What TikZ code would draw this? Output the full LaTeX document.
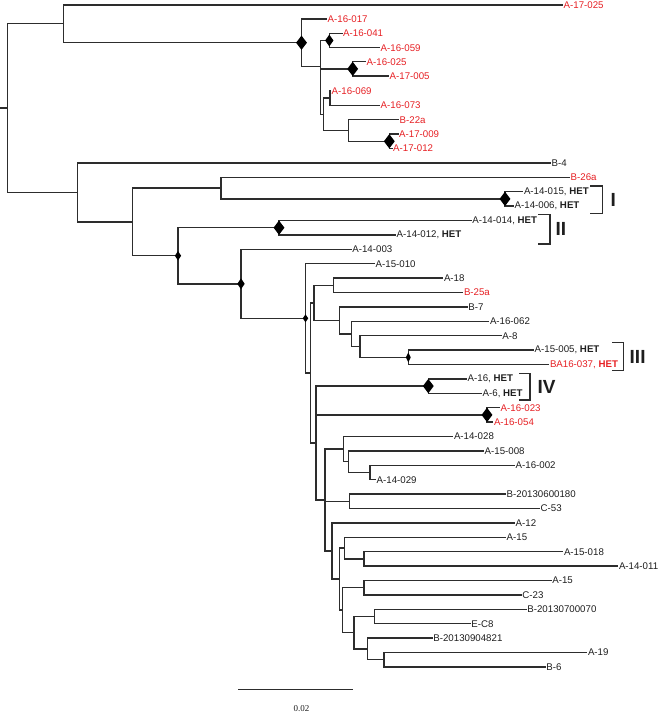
\documentclass[tikz,border=0pt]{standalone}
\usepackage{fontspec}
\setmainfont{Liberation Sans}
\newfontfamily\serifnum{Liberation Serif}
\usetikzlibrary{shapes.geometric}
\definecolor{myred}{RGB}{230,32,36}
\definecolor{txt}{RGB}{30,30,30}
\definecolor{ln}{RGB}{45,45,45}
\tikzset{
  br/.style={line width=1.45pt, draw=ln},
  lf/.style={anchor=west, inner sep=0.5pt, font=\fontsize{9.7}{10}\selectfont, text=txt},
  rd/.style={lf, text=myred},
  dmbig/.style={diamond, fill=black, draw=none, inner sep=0pt, minimum width=11pt, minimum height=14.5pt},
  dmmid/.style={diamond, fill=black, draw=none, inner sep=0pt, minimum width=8.5pt, minimum height=12pt},
  dmsm/.style={diamond, fill=black, draw=none, inner sep=0pt, minimum width=6.5pt, minimum height=9.5pt},
  grp/.style={font=\fontsize{19}{20}\selectfont\bfseries, text=txt, inner sep=0pt, anchor=west},
  brk/.style={line width=1.45pt, draw=ln}
}
\begin{document}
\begin{tikzpicture}[x=1pt,y=-1pt]
\useasboundingbox (0,0) rectangle (658,713);
% internal nodes
\coordinate (R0) at (0,108);
\coordinate (R) at (7.5,108);
\coordinate (N1) at (63.3,23.6);
\coordinate (N2) at (301.5,42.7);
\coordinate (N3) at (320.7,66.5);
\coordinate (C041) at (329.3,40.5);
\coordinate (C025) at (352.7,68.9);
\coordinate (N4) at (323.3,114.3);
\coordinate (C069) at (330,98.1);
\coordinate (C22a) at (348.3,130.5);
\coordinate (C009) at (389.3,141.3);
\coordinate (NB) at (77.7,192.4);
\coordinate (NC) at (132.7,221.9);
\coordinate (NBc) at (221,188.1);
\coordinate (CI) at (505,198.9);
\coordinate (ND) at (178,255.75);
\coordinate (CII) at (279,227.7);
\coordinate (NE) at (241,283.8);
\coordinate (NF) at (305.5,318.3);
\coordinate (G) at (310.7,373);
\coordinate (H) at (314,302.85);
\coordinate (A18c) at (333.3,285.3);
\coordinate (K) at (339.3,320.4);
\coordinate (L) at (351.7,333.9);
\coordinate (M) at (360,346.5);
\coordinate (NIII) at (408.3,357.3);
\coordinate (J) at (316,443.1);
\coordinate (CIV) at (428.3,386.1);
\coordinate (C023) at (487,414.9);
\coordinate (P) at (325,500.05);
\coordinate (Q) at (343.3,449.1);
\coordinate (RR) at (348.3,461.7);
\coordinate (S) at (370,472.5);
\coordinate (T) at (349.3,501.3);
\coordinate (U) at (332,551);
\coordinate (V) at (339.3,579.15);
\coordinate (W) at (344.3,548.1);
\coordinate (X) at (364,558.9);
\coordinate (Y) at (342.7,610.2);
\coordinate (Z) at (364,587.7);
\coordinate (AA) at (354,632.7);
\coordinate (AB) at (374.3,616.5);
\coordinate (AC) at (367.3,648.9);
\coordinate (AD) at (384,659.7);
% leaves
\node[rd] (l0) at (563,4.8) {A-17-025};
\node[rd] (l1) at (327,18.9) {A-16-017};
\node[rd] (l2) at (342.5,33.3) {A-16-041};
\node[rd] (l3) at (380,47.7) {A-16-059};
\node[rd] (l4) at (366,61.7) {A-16-025};
\node[rd] (l5) at (389,76.1) {A-17-005};
\node[rd] (l6) at (331,90.9) {A-16-069};
\node[rd] (l7) at (380,105.3) {A-16-073};
\node[rd] (l8) at (399,119.7) {B-22a};
\node[rd] (l9) at (398.5,134.1) {A-17-009};
\node[rd] (l10) at (392.5,148.5) {A-17-012};
\node[lf] (l11) at (551,162.9) {B-4};
\node[rd] (l12) at (570,177.3) {B-26a};
\node[lf] (l13) at (523.3,191.7) {A-14-015, \textbf{HET}};
\node[lf] (l14) at (514,206.1) {A-14-006, \textbf{HET}};
\node[lf] (l15) at (471.7,220.5) {A-14-014, \textbf{HET}};
\node[lf] (l16) at (396,234.9) {A-14-012, \textbf{HET}};
\node[lf] (l17) at (351.7,249.3) {A-14-003};
\node[lf] (l18) at (375,263.7) {A-15-010};
\node[lf] (l19) at (443.3,278.1) {A-18};
\node[rd] (l20) at (463.3,292.5) {B-25a};
\node[lf] (l21) at (467.7,306.9) {B-7};
\node[lf] (l22) at (489.3,321.3) {A-16-062};
\node[lf] (l23) at (501.7,335.7) {A-8};
\node[lf] (l24) at (534,350.1) {A-15-005, \textbf{HET}};
\node[rd] (l25) at (549.3,364.5) {BA16-037, \textbf{HET}};
\node[lf] (l26) at (467,378.9) {A-16, \textbf{HET}};
\node[lf] (l27) at (482,393.3) {A-6, \textbf{HET}};
\node[rd] (l28) at (500,407.7) {A-16-023};
\node[rd] (l29) at (493.3,422.1) {A-16-054};
\node[lf] (l30) at (453.3,436.5) {A-14-028};
\node[lf] (l31) at (484,450.9) {A-15-008};
\node[lf] (l32) at (515,465.3) {A-16-002};
\node[lf] (l33) at (376,479.7) {A-14-029};
\node[lf] (l34) at (506,494.1) {B-20130600180};
\node[lf] (l35) at (540,508.5) {C-53};
\node[lf] (l36) at (515,522.9) {A-12};
\node[lf] (l37) at (506,537.3) {A-15};
\node[lf] (l38) at (563.3,551.7) {A-15-018};
\node[lf] (l39) at (618.3,566.1) {A-14-011};
\node[lf] (l40) at (551.7,580.5) {A-15};
\node[lf] (l41) at (521.7,594.9) {C-23};
\node[lf] (l42) at (526.7,609.3) {B-20130700070};
\node[lf] (l43) at (470.7,623.7) {E-C8};
\node[lf] (l44) at (432.7,638.1) {B-20130904821};
\node[lf] (l45) at (587.3,652.5) {A-19};
\node[lf] (l46) at (545.7,666.9) {B-6};
% branches
\draw[br] (R0) -- (R);
\draw[br] (R) |- (N1); \draw[br] (R) |- (NB);
\draw[br] (N1) |- (l0.west); \draw[br] (N1) |- (N2);
\draw[br] (N2) |- (l1.west); \draw[br] (N2) |- (N3);
\draw[br] (N3) |- (C041); \draw[br] (N3) |- (C025); \draw[br] (N3) |- (N4);
\draw[br] (C041) |- (l2.west); \draw[br] (C041) |- (l3.west);
\draw[br] (C025) |- (l4.west); \draw[br] (C025) |- (l5.west);
\draw[br] (N4) |- (C069); \draw[br] (N4) |- (C22a);
\draw[br] (C069) |- (l6.west); \draw[br] (C069) |- (l7.west);
\draw[br] (C22a) |- (l8.west); \draw[br] (C22a) |- (C009);
\draw[br] (C009) |- (l9.west); \draw[br] (C009) |- (l10.west);
\draw[br] (NB) |- (l11.west); \draw[br] (NB) |- (NC);
\draw[br] (NC) |- (NBc); \draw[br] (NC) |- (ND);
\draw[br] (NBc) |- (l12.west); \draw[br] (NBc) |- (CI);
\draw[br] (CI) |- (l13.west); \draw[br] (CI) |- (l14.west);
\draw[br] (ND) |- (CII); \draw[br] (ND) |- (NE);
\draw[br] (CII) |- (l15.west); \draw[br] (CII) |- (l16.west);
\draw[br] (NE) |- (l17.west); \draw[br] (NE) |- (NF);
\draw[br] (NF) |- (l18.west); \draw[br] (NF) |- (G);
\draw[br] (G) |- (H); \draw[br] (G) |- (J);
\draw[br] (H) |- (A18c); \draw[br] (H) |- (K);
\draw[br] (A18c) |- (l19.west); \draw[br] (A18c) |- (l20.west);
\draw[br] (K) |- (l21.west); \draw[br] (K) |- (L);
\draw[br] (L) |- (l22.west); \draw[br] (L) |- (M);
\draw[br] (M) |- (l23.west); \draw[br] (M) |- (NIII);
\draw[br] (NIII) |- (l24.west); \draw[br] (NIII) |- (l25.west);
\draw[br] (J) |- (CIV); \draw[br] (J) |- (C023); \draw[br] (J) |- (P);
\draw[br] (CIV) |- (l26.west); \draw[br] (CIV) |- (l27.west);
\draw[br] (C023) |- (l28.west); \draw[br] (C023) |- (l29.west);
\draw[br] (P) |- (Q); \draw[br] (P) |- (T); \draw[br] (P) |- (U);
\draw[br] (Q) |- (l30.west); \draw[br] (Q) |- (RR);
\draw[br] (RR) |- (l31.west); \draw[br] (RR) |- (S);
\draw[br] (S) |- (l32.west); \draw[br] (S) |- (l33.west);
\draw[br] (T) |- (l34.west); \draw[br] (T) |- (l35.west);
\draw[br] (U) |- (l36.west); \draw[br] (U) |- (V);
\draw[br] (V) |- (W); \draw[br] (V) |- (Y);
\draw[br] (W) |- (l37.west); \draw[br] (W) |- (X);
\draw[br] (X) |- (l38.west); \draw[br] (X) |- (l39.west);
\draw[br] (Y) |- (Z); \draw[br] (Y) |- (AA);
\draw[br] (Z) |- (l40.west); \draw[br] (Z) |- (l41.west);
\draw[br] (AA) |- (AB); \draw[br] (AA) |- (AC);
\draw[br] (AB) |- (l42.west); \draw[br] (AB) |- (l43.west);
\draw[br] (AC) |- (l44.west); \draw[br] (AC) |- (AD);
\draw[br] (AD) |- (l45.west); \draw[br] (AD) |- (l46.west);
% support diamonds
\node[dmbig] (dN2) at (N2) {};
\node[dmmid] (dC041) at (C041) {};
\node[dmbig] (dC025) at (C025) {};
\node[dmbig] (dC009) at (C009) {};
\node[dmbig] (dCI) at (CI) {};
\node[dmbig] (dCII) at (CII) {};
\node[dmsm] (dND) at (ND) {};
\node[dmsm, minimum height=11pt, minimum width=7.5pt] (dNE) at (NE) {};
\node[dmsm, minimum width=5.7pt, minimum height=8pt] (dNF) at (NF) {};
\node[dmsm, minimum width=5pt, minimum height=10pt] (dNIII) at (NIII) {};
\node[dmbig] (dCIV) at (CIV) {};
\node[dmbig] (dC023) at (C023) {};
% brackets
\coordinate (bIa) at (590,186); \coordinate (bIb) at (602.7,186);
\coordinate (bIc) at (602.7,213.3); \coordinate (bId) at (590,213.3);
\draw[brk] (bIa) -- (bIb) -- (bIc) -- (bId);
\node[grp] (gI) at (610.5,200) {I};
\coordinate (bIIa) at (538,214.3); \coordinate (bIIb) at (550,214.3);
\coordinate (bIIc) at (550,244); \coordinate (bIId) at (538,244);
\draw[brk] (bIIa) -- (bIIb) -- (bIIc) -- (bIId);
\node[grp] (gII) at (555.5,229) {II};
\coordinate (bIIIa) at (612,342.7); \coordinate (bIIIb) at (623.3,342.7);
\coordinate (bIIIc) at (623.3,370.7); \coordinate (bIIId) at (612,370.7);
\draw[brk] (bIIIa) -- (bIIIb) -- (bIIIc) -- (bIIId);
\node[grp] (gIII) at (629.5,356.7) {III};
\coordinate (bIVa) at (519,373.3); \coordinate (bIVb) at (530,373.3);
\coordinate (bIVc) at (530,400); \coordinate (bIVd) at (519,400);
\draw[brk] (bIVa) -- (bIVb) -- (bIVc) -- (bIVd);
\node[grp] (gIV) at (537.5,386.7) {IV};
% scale bar
\coordinate (sba) at (238,689.3);
\coordinate (sbb) at (353,689.3);
\draw[br] (sba) -- (sbb);
\node[font=\serifnum\fontsize{9}{10}\selectfont, text=txt, inner sep=0pt] (sbl) at (301.5,709) {0.02};
\end{tikzpicture}
\end{document}
